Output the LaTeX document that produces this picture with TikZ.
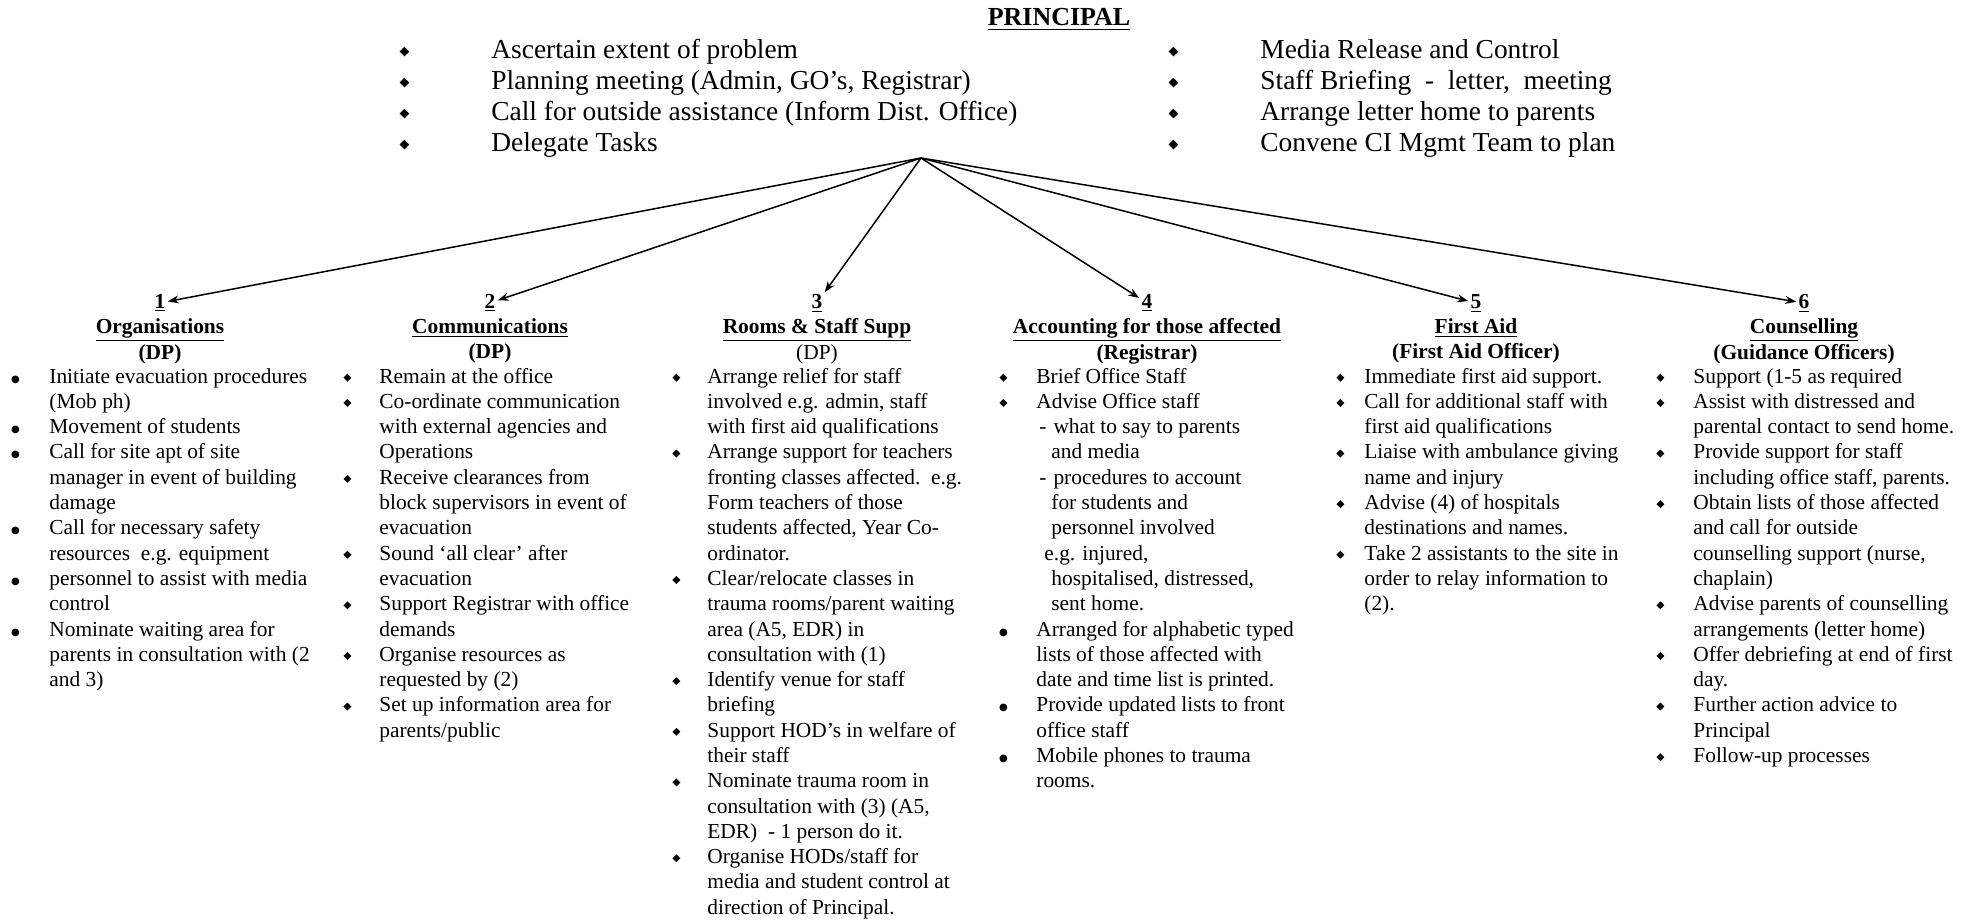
\documentclass[tikz,border=0pt]{standalone}
\usepackage{fontspec}
\setmainfont{Liberation Serif}
\newfontfamily\symfont{DejaVu Sans}
\usepackage{graphicx}
\usetikzlibrary{arrows.meta}
\newcommand\dia{\raisebox{0.7pt}{\rotatebox{45}{\rule{2.8pt}{2.8pt}}}}
\newcommand\bigdia{\raisebox{1.3pt}{\rotatebox{45}{\rule{3.4pt}{3.4pt}}}}
\newcommand\rbul{\raisebox{0.5pt}{\symfont\fontsize{5}{5}\selectfont ●}}
\begin{document}
\begin{tikzpicture}[x=0.5pt,y=-0.5pt,
  body/.style={inner sep=0pt, anchor=base west, font=\fontsize{10.7}{12.65}\selectfont},
  topbody/.style={inner sep=0pt, anchor=base west, font=\fontsize{13.7}{15.5}\selectfont},
  num/.style={inner sep=1pt, anchor=base, font=\fontsize{10.7}{12.65}\selectfont\bfseries},
  ttl/.style={inner sep=0pt, anchor=base, font=\fontsize{10.7}{12.65}\selectfont},
  arr/.style={-{Stealth[length=5.5pt,width=4pt]}, line width=0.75pt}]
\useasboundingbox (0,0) rectangle (1966,920);

\node[inner sep=0pt, anchor=base, font=\fontsize{13}{15}\selectfont\bfseries] (prin) at (1059,26) {\underline{PRINCIPAL}};

\node[topbody] (tl) at (317,59) {\begin{tabular}[t]{@{}c@{}l@{}}
\makebox[87pt]{\bigdia} & Ascertain extent of problem\\
\bigdia & Planning meeting (Admin, GO’s, Registrar)\\
\bigdia & Call for outside assistance (Inform Dist. Office)\\
\bigdia & Delegate Tasks
\end{tabular}};

\node[topbody] (tr) at (1086,59) {\begin{tabular}[t]{@{}c@{}l@{}}
\makebox[87pt]{\bigdia} & Media Release and Control\\
\bigdia & Staff Briefing\ \ -\ \ letter,\ \ meeting\\
\bigdia & Arrange letter home to parents\\
\bigdia & Convene CI Mgmt Team to plan
\end{tabular}};

\coordinate (hub) at (921,158);

% numbers
\node[num] (n1) at (160,308) {\underline{1}};
\node[num] (n2) at (490,308) {\underline{2}};
\node[num] (n3) at (817,308) {\underline{3}};
\node[num] (n4) at (1147,308) {\underline{4}};
\node[num] (n5) at (1476,308) {\underline{5}};
\node[num] (n6) at (1804,308) {\underline{6}};

\foreach \n in {n1,n2,n3,n4,n5,n6} \draw[arr] (hub) -- (\n);

% titles
\node[ttl] (t1) at (160,333) {\begin{tabular}[t]{@{}c@{}}\underline{\textbf{Organisations}}\\ \textbf{(DP)}\end{tabular}};
\node[ttl] (t2) at (490,333) {\begin{tabular}[t]{@{}c@{}}\underline{\textbf{Communications}}\\ \textbf{(DP)}\end{tabular}};
\node[ttl] (t3) at (817,333) {\begin{tabular}[t]{@{}c@{}}\underline{\textbf{Rooms \& Staff Supp}}\\ (DP)\end{tabular}};
\node[ttl] (t4) at (1147,333) {\begin{tabular}[t]{@{}c@{}}\underline{\textbf{Accounting for those affected}}\\ \textbf{(Registrar)}\end{tabular}};
\node[ttl] (t5) at (1476,333) {\begin{tabular}[t]{@{}c@{}}\underline{\textbf{First Aid}}\\ \textbf{(First Aid Officer)}\end{tabular}};
\node[ttl] (t6) at (1804,333) {\begin{tabular}[t]{@{}c@{}}\underline{\textbf{Counselling}}\\ \textbf{(Guidance Officers)}\end{tabular}};

% columns
\node[body] (b1) at (0,383) {\begin{tabular}[t]{@{}l@{}l@{}}
\makebox[24.5pt][l]{\makebox[15pt]{\rbul}} & Initiate evacuation procedures\\
 & (Mob ph)\\
\makebox[15pt]{\rbul} & Movement of students\\
\makebox[15pt]{\rbul} & Call for site apt of site\\
 & manager in event of building\\
 & damage\\
\makebox[15pt]{\rbul} & Call for necessary safety\\
 & resources\ \ e.g. equipment\\
\makebox[15pt]{\rbul} & personnel to assist with media\\
 & control\\
\makebox[15pt]{\rbul} & Nominate waiting area for\\
 & parents in consultation with (2\\
 & and 3)
\end{tabular}};

\node[body] (b2) at (315,383) {\begin{tabular}[t]{@{}c@{}l@{}}
\makebox[32pt]{\dia} & Remain at the office\\
\dia & Co-ordinate communication\\
 & with external agencies and\\
 & Operations\\
\dia & Receive clearances from\\
 & block supervisors in event of\\
 & evacuation\\
\dia & Sound ‘all clear’ after\\
 & evacuation\\
\dia & Support Registrar with office\\
 & demands\\
\dia & Organise resources as\\
 & requested by (2)\\
\dia & Set up information area for\\
 & parents/public
\end{tabular}};

\node[body] (b3) at (645,383) {\begin{tabular}[t]{@{}c@{}l@{}}
\makebox[31pt]{\dia} & Arrange relief for staff\\
 & involved e.g. admin, staff\\
 & with first aid qualifications\\
\dia & Arrange support for teachers\\
 & fronting classes affected.\ \ e.g.\\
 & Form teachers of those\\
 & students affected, Year Co-\\
 & ordinator.\\
\dia & Clear/relocate classes in\\
 & trauma rooms/parent waiting\\
 & area (A5, EDR) in\\
 & consultation with (1)\\
\dia & Identify venue for staff\\
 & briefing\\
\dia & Support HOD’s in welfare of\\
 & their staff\\
\dia & Nominate trauma room in\\
 & consultation with (3) (A5,\\
 & EDR)\ \ - 1 person do it.\\
\dia & Organise HODs/staff for\\
 & media and student control at\\
 & direction of Principal.
\end{tabular}};

\node[body] (b4) at (970,383) {\begin{tabular}[t]{@{}c@{}l@{}}
\makebox[33pt]{\dia} & Brief Office Staff\\
\dia & Advise Office staff\\
 & \hspace{1.5pt}-\hspace{3.5pt}what to say to parents\\
 & \hspace{7.5pt}and media\\
 & \hspace{1.5pt}-\hspace{3.5pt}procedures to account\\
 & \hspace{7.5pt}for students and\\
 & \hspace{7.5pt}personnel involved\\
 & \hspace{4pt}e.g. injured,\\
 & \hspace{7.5pt}hospitalised, distressed,\\
 & \hspace{7.5pt}sent home.\\
\rbul & Arranged for alphabetic typed\\
 & lists of those affected with\\
 & date and time list is printed.\\
\rbul & Provide updated lists to front\\
 & office staff\\
\rbul & Mobile phones to trauma\\
 & rooms.
\end{tabular}};

\node[body] (b5) at (1316,383) {\begin{tabular}[t]{@{}c@{}l@{}}
\makebox[24pt]{\dia} & Immediate first aid support.\\
\dia & Call for additional staff with\\
 & first aid qualifications\\
\dia & Liaise with ambulance giving\\
 & name and injury\\
\dia & Advise (4) of hospitals\\
 & destinations and names.\\
\dia & Take 2 assistants to the site in\\
 & order to relay information to\\
 & (2).
\end{tabular}};

\node[body] (b6) at (1627,383) {\begin{tabular}[t]{@{}c@{}l@{}}
\makebox[33pt]{\dia} & Support (1-5 as required\\
\dia & Assist with distressed and\\
 & parental contact to send home.\\
\dia & Provide support for staff\\
 & including office staff, parents.\\
\dia & Obtain lists of those affected\\
 & and call for outside\\
 & counselling support (nurse,\\
 & chaplain)\\
\dia & Advise parents of counselling\\
 & arrangements (letter home)\\
\dia & Offer debriefing at end of first\\
 & day.\\
\dia & Further action advice to\\
 & Principal\\
\dia & Follow-up processes
\end{tabular}};
\end{tikzpicture}
\end{document}
